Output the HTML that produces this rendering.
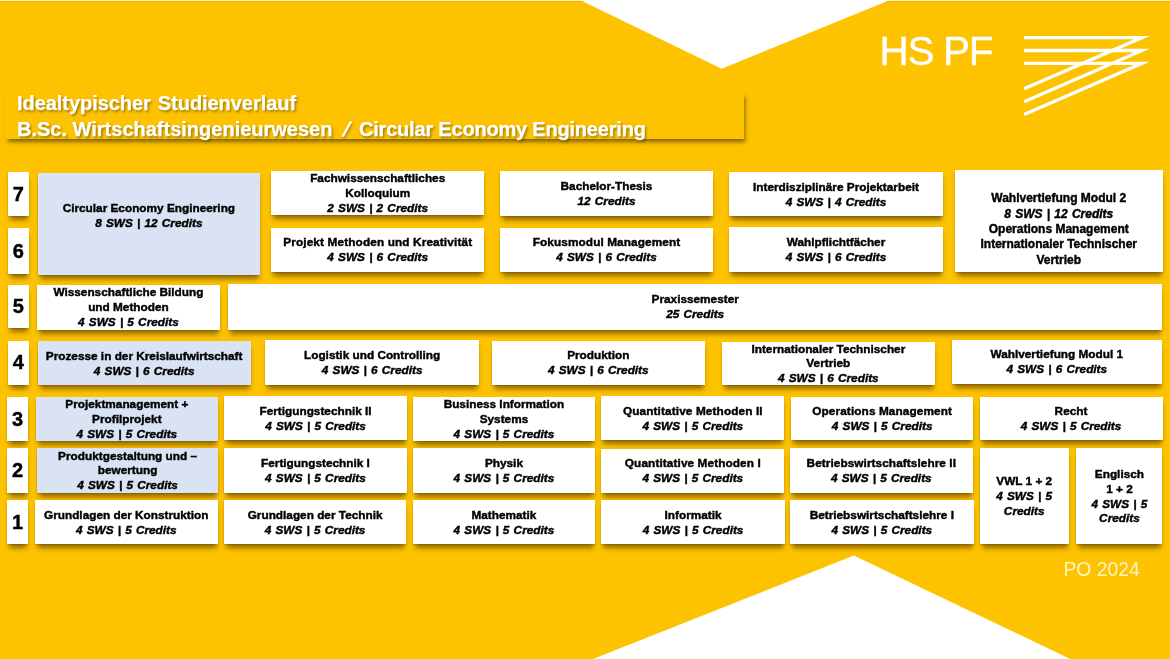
<!DOCTYPE html>
<html lang="de"><head><meta charset="utf-8"><title>Idealtypischer Studienverlauf</title>
<style>
html,body{margin:0;padding:0}
body{width:1170px;height:659px;overflow:hidden;background:#FDC300;position:relative;font-family:"Liberation Sans",Arial,sans-serif;color:#000}
.bgsvg{position:absolute;left:0;top:0}
.banner{position:absolute;left:5px;top:92px;width:738.5px;height:47px;background:#FDC300;box-shadow:1.5px 4px 4px -1px rgba(60,40,0,.6)}
.t{position:absolute;left:17px;white-space:pre;font-weight:bold;font-size:20px;line-height:24px;color:#fff;text-shadow:1.5px 2px 2.5px rgba(80,55,0,.55);-webkit-text-stroke:.25px #fff}
.b{position:absolute;background:#fff;box-shadow:.3px 5.5px 5px -1.5px rgba(80,50,0,.62),.3px .6px 1.5px rgba(70,45,0,.6);display:flex;flex-direction:column;justify-content:center;align-items:center;text-align:center;font-weight:bold;font-size:11.8px;line-height:14.6px;white-space:nowrap;-webkit-text-stroke:.42px #000}
.b i{display:block;font-style:italic;word-spacing:.9px;position:relative;top:.4px}
.b span{display:block}
.n{position:absolute;left:7.5px;width:20.7px;background:#fff;box-shadow:.3px 5.5px 5px -1.5px rgba(80,50,0,.62),.3px .6px 1.5px rgba(70,45,0,.6);display:flex;justify-content:center;align-items:center;font-weight:bold;font-size:20px;-webkit-text-stroke:.4px #000;padding-top:.4px;box-sizing:border-box}
.hs{position:absolute;left:879.5px;top:28.5px;font-size:40.5px;line-height:44px;color:#fff;letter-spacing:-1.3px;white-space:nowrap;-webkit-text-stroke:.3px #fff}
.po{position:absolute;left:1063.5px;top:559.3px;font-size:19.3px;line-height:22px;color:#FFF3C4;white-space:nowrap}
</style></head><body>
<svg class="bgsvg" width="1170" height="659" viewBox="0 0 1170 659">
<rect x="0" y="0" width="1170" height="1" fill="#FFF79A"/><rect x="0" y="1" width="1170" height="1" fill="#E6B416"/>
<polygon points="580,0 721.7,68.7 890,0" fill="#fff"/>
<polygon points="593,659 853.8,555.6 1070.3,659" fill="#fff"/>
<g fill="none" stroke="#fff" stroke-width="3.3" stroke-linejoin="miter" stroke-miterlimit="20">
<polyline points="1024.1,37.6 1142,37.6 1024.1,88.8"/>
<polyline points="1024.1,50.5 1142,50.5 1024.1,101.7"/>
<polyline points="1024.1,63.3 1142,63.3 1024.1,114.6"/>
</g>
</svg>
<div class="banner"></div>
<div class="t" style="top:91px;word-spacing:1.5px;letter-spacing:-.05px">Idealtypischer Studienverlauf</div>
<div class="t" style="top:116.5px">B.Sc. Wirtschaftsingenieurwesen</div>
<div class="t" style="top:116.5px;left:343.5px;transform:skewX(-20deg)">/</div>
<div class="t" style="top:116.5px;left:359px;letter-spacing:-.2px">Circular Economy Engineering</div>
<div class="hs">HS PF</div>
<div class="po">PO 2024</div>

<div class="n" style="left:8px;top:172px;height:44.1px">7</div>
<div class="n" style="left:8px;top:228.1px;height:46.1px">6</div>
<div class="n" style="left:8px;top:284.6px;height:43.5px">5</div>
<div class="n" style="left:8px;top:340.7px;height:44.1px">4</div>
<div class="n" style="left:7.2px;top:397.2px;height:43.4px">3</div>
<div class="n" style="left:7.2px;top:448.4px;height:44.3px">2</div>
<div class="n" style="left:7.2px;top:500.4px;height:43.5px">1</div>
<div class="b" style="left:38.1px;top:172.6px;width:221.5px;height:102.2px;background:#DAE3F3;padding:0px 0px 15.4px 0px;box-sizing:border-box"><span>Circular Economy Engineering</span><i>8 SWS | 12 Credits</i></div>
<div class="b" style="left:271px;top:171px;width:213.4px;height:44.4px"><span>Fachwissenschaftliches</span><span>Kolloquium</span><i>2 SWS | 2 Credits</i></div>
<div class="b" style="left:271px;top:228.3px;width:213.4px;height:43.5px"><span style="letter-spacing:0.13px">Projekt Methoden und Kreativität</span><i>4 SWS | 6 Credits</i></div>
<div class="b" style="left:500px;top:171px;width:213px;height:44.6px"><span>Bachelor-Thesis</span><i>12 Credits</i></div>
<div class="b" style="left:500px;top:227.8px;width:213px;height:44.0px"><span style="letter-spacing:0.1px">Fokusmodul Management</span><i>4 SWS | 6 Credits</i></div>
<div class="b" style="left:729.2px;top:172.3px;width:213.6px;height:44.0px"><span>Interdisziplinäre Projektarbeit</span><i>4 SWS | 4 Credits</i></div>
<div class="b" style="left:729.2px;top:226.9px;width:213.6px;height:44.8px"><span>Wahlpflichtfächer</span><i>4 SWS | 6 Credits</i></div>
<div class="b" style="left:955px;top:170px;width:207.5px;height:102px;padding:17.2px 0px 0px 0px;box-sizing:border-box;font-size:12px;line-height:15.3px"><span>Wahlvertiefung Modul 2</span><i>8 SWS | 12 Credits</i><span>Operations Management</span><span>Internationaler Technischer</span><span>Vertrieb</span></div>
<div class="b" style="left:37.1px;top:284.6px;width:182.7px;height:45.0px"><span>Wissenschaftliche Bildung</span><span>und Methoden</span><i>4 SWS | 5 Credits</i></div>
<div class="b" style="left:228.4px;top:284.4px;width:933.6px;height:45.2px"><span>Praxissemester</span><i>25 Credits</i></div>
<div class="b" style="left:37.7px;top:341.1px;width:212.9px;height:44.1px;background:#DAE3F3"><span>Prozesse in der Kreislaufwirtschaft</span><i>4 SWS | 6 Credits</i></div>
<div class="b" style="left:265.1px;top:340.2px;width:214.1px;height:44.5px"><span>Logistik und Controlling</span><i>4 SWS | 6 Credits</i></div>
<div class="b" style="left:491.6px;top:340.7px;width:213.4px;height:43.9px"><span>Produktion</span><i>4 SWS | 6 Credits</i></div>
<div class="b" style="left:721.7px;top:341.7px;width:213.3px;height:43.6px"><span>Internationaler Technischer</span><span>Vertrieb</span><i>4 SWS | 6 Credits</i></div>
<div class="b" style="left:951.6px;top:340.2px;width:210.4px;height:43.7px"><span>Wahlvertiefung Modul 1</span><i>4 SWS | 6 Credits</i></div>
<div class="b" style="left:35.7px;top:397.2px;width:182.3px;height:43.8px;background:#DAE3F3"><span>Projektmanagement +</span><span>Profilprojekt</span><i>4 SWS | 5 Credits</i></div>
<div class="b" style="left:224.4px;top:396.4px;width:182.3px;height:43.9px"><span>Fertigungstechnik II</span><i>4 SWS | 5 Credits</i></div>
<div class="b" style="left:412.7px;top:397.1px;width:182.5px;height:44.1px"><span>Business Information</span><span>Systems</span><i>4 SWS | 5 Credits</i></div>
<div class="b" style="left:601.2px;top:396.3px;width:183.3px;height:43.8px"><span style="letter-spacing:0.12px">Quantitative Methoden II</span><i>4 SWS | 5 Credits</i></div>
<div class="b" style="left:791px;top:396.6px;width:182.3px;height:43.6px"><span style="letter-spacing:0.1px">Operations Management</span><i>4 SWS | 5 Credits</i></div>
<div class="b" style="left:979.5px;top:396.6px;width:183.0px;height:43.8px"><span>Recht</span><i>4 SWS | 5 Credits</i></div>
<div class="b" style="left:37.2px;top:448.4px;width:180.8px;height:44.4px;background:#DAE3F3"><span>Produktgestaltung und –</span><span>bewertung</span><i>4 SWS | 5 Credits</i></div>
<div class="b" style="left:224.3px;top:448.3px;width:182.3px;height:44.5px"><span>Fertigungstechnik I</span><i>4 SWS | 5 Credits</i></div>
<div class="b" style="left:412.7px;top:448.2px;width:182.5px;height:44.6px"><span>Physik</span><i>4 SWS | 5 Credits</i></div>
<div class="b" style="left:601.2px;top:448.7px;width:183.3px;height:44.1px"><span style="letter-spacing:0.1px">Quantitative Methoden I</span><i>4 SWS | 5 Credits</i></div>
<div class="b" style="left:790px;top:448.4px;width:182.6px;height:44.3px"><span style="letter-spacing:0.07px">Betriebswirtschaftslehre II</span><i>4 SWS | 5 Credits</i></div>
<div class="b" style="left:979.6px;top:448.4px;width:89.2px;height:95.8px;padding:0px 0px 0.8px 0px;box-sizing:border-box"><span>VWL 1 + 2</span><i>4 SWS | 5</i><i>Credits</i></div>
<div class="b" style="left:1076.4px;top:448.4px;width:86.1px;height:95.8px"><span>Englisch</span><span>1 + 2</span><i>4 SWS | 5</i><i>Credits</i></div>
<div class="b" style="left:34.5px;top:500.1px;width:183.5px;height:44.1px"><span>Grundlagen der Konstruktion</span><i>4 SWS | 5 Credits</i></div>
<div class="b" style="left:224px;top:500.1px;width:182.2px;height:44.1px"><span>Grundlagen der Technik</span><i>4 SWS | 5 Credits</i></div>
<div class="b" style="left:412.7px;top:500.4px;width:182.5px;height:44.0px"><span>Mathematik</span><i>4 SWS | 5 Credits</i></div>
<div class="b" style="left:601.2px;top:500.2px;width:183.8px;height:44.0px"><span>Informatik</span><i>4 SWS | 5 Credits</i></div>
<div class="b" style="left:790px;top:500.1px;width:183.6px;height:44.1px"><span>Betriebswirtschaftslehre I</span><i>4 SWS | 5 Credits</i></div>
</body></html>
